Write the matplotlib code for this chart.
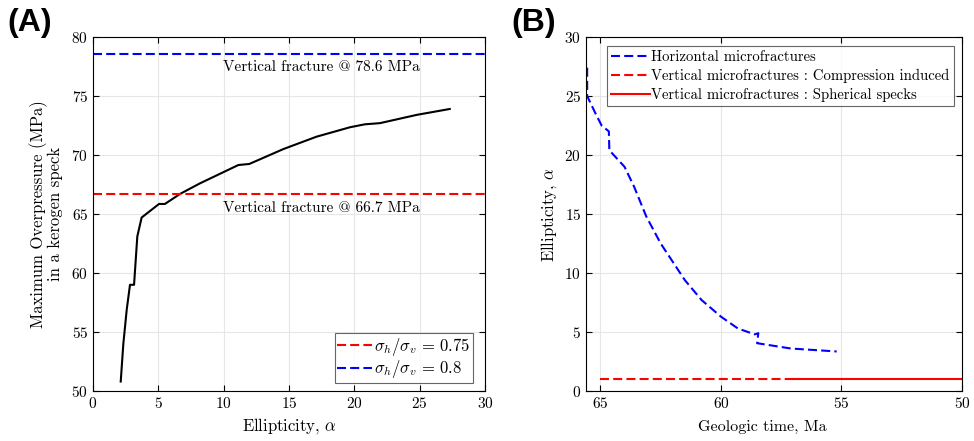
import matplotlib
matplotlib.use("Agg")
import matplotlib.pyplot as plt

plt.rcParams['font.family'] = ['cmr10', 'DejaVu Serif']
plt.rcParams['mathtext.fontset'] = 'cm'
plt.rcParams['axes.formatter.use_mathtext'] = True
plt.rcParams['axes.unicode_minus'] = False
plt.rcParams['lines.scale_dashes'] = False

# Panel A data
ellipticity = [2.12, 2.32, 2.58, 2.83, 3.14, 3.39, 3.72, 5.05, 5.5, 6.66, 8.19,
               11.12, 11.96, 14.56, 17.1, 19.66, 20.8, 21.96, 24.77, 27.3]
overpressure = [50.8, 54.0, 56.9, 59.0, 59.0, 63.1, 64.7, 65.85, 65.85, 66.7, 67.6,
                69.15, 69.24, 70.5, 71.55, 72.35, 72.6, 72.7, 73.4, 73.9]
frac_075 = 66.7
frac_08 = 78.6

# Panel B data
time_horiz = [65.55, 65.55, 65.2, 64.95, 64.65, 64.63, 64.0, 63.6, 63.1, 62.5, 61.5,
              60.8, 60.0, 59.3, 58.6, 58.45, 58.5, 57.1, 55.2]
ell_horiz = [27.4, 25.0, 23.5, 22.5, 22.0, 20.4, 19.0, 17.3, 14.8, 12.5, 9.4,
             7.7, 6.3, 5.3, 4.8, 4.9, 4.05, 3.6, 3.35]
time_comp = [65.0, 57.0]
ell_comp = [1.0, 1.0]
time_sph = [57.0, 50.0]
ell_sph = [1.0, 1.0]

DASH = (6.5, 3.0)
LW = 1.5

fig = plt.figure(figsize=(9.74, 4.41), dpi=100)
axA = fig.add_axes([0.0955, 0.1134, 0.4025, 0.8027])
axB = fig.add_axes([0.6016, 0.1134, 0.3861, 0.8027])

def style(ax):
    ax.grid(True, color='#e6e6e6', linewidth=0.8)
    ax.set_axisbelow(True)
    ax.tick_params(direction='in', top=True, right=True, labelsize=11, length=4)
    for s in ax.spines.values():
        s.set_linewidth(0.8)

# Panel A
axA.plot(ellipticity, overpressure, color='k', lw=LW)
l1, = axA.plot([0, 30], [frac_075, frac_075], color='r', ls='--', dashes=DASH, lw=LW,
               label=r'$\sigma_h/\sigma_v\,=\,0.75$')
l2, = axA.plot([0, 30], [frac_08, frac_08], color='b', ls='--', dashes=DASH, lw=LW,
               label=r'$\sigma_h/\sigma_v\,=\,0.8$')
axA.text(17.5, frac_08 - 0.6, 'Vertical fracture @ 78.6 MPa', ha='center', va='top', fontsize=11)
axA.text(17.5, frac_075 - 0.6, 'Vertical fracture @ 66.7 MPa', ha='center', va='top', fontsize=11)
axA.set_xlim(0, 30)
axA.set_ylim(50, 80)
axA.set_xticks([0, 5, 10, 15, 20, 25, 30])
axA.set_yticks([50, 55, 60, 65, 70, 75, 80])
axA.set_xlabel(r'Ellipticity, $\alpha$', fontsize=12)
axA.set_ylabel('Maximum Overpressure (MPa)\nin a kerogen speck', fontsize=12, linespacing=1.0,
               labelpad=6)
style(axA)
legA = axA.legend(handles=[l1, l2], loc='lower right', bbox_to_anchor=(0.969, 0.0226),
                  fontsize=12, fancybox=False,
                  edgecolor='#404040', handlelength=2.1, handletextpad=0.1,
                  borderpad=0.15, labelspacing=0.05, borderaxespad=0.0)
legA.get_frame().set_linewidth(0.8)

# Panel B
b1, = axB.plot(time_horiz, ell_horiz, color='b', ls='--', dashes=DASH, lw=LW,
               label='Horizontal microfractures')
b2, = axB.plot(time_comp, ell_comp, color='r', ls='--', dashes=DASH, lw=LW,
               label='Vertical microfractures : Compression induced')
b3, = axB.plot(time_sph, ell_sph, color='r', ls='-', lw=LW,
               label='Vertical microfractures : Spherical specks')
axB.set_xlim(65.6, 50)
axB.set_ylim(0, 30)
axB.set_xticks([65, 60, 55, 50])
axB.set_yticks([0, 5, 10, 15, 20, 25, 30])
axB.set_xlabel('Geologic time, Ma', fontsize=11.5)
axB.xaxis.set_label_coords(0.468, -0.083)
axB.set_ylabel(r'Ellipticity, $\alpha$', fontsize=12)
style(axB)
legB = axB.legend(handles=[b1, b2, b3], loc='upper left', bbox_to_anchor=(0.056, 0.9746),
                  fontsize=10.6, fancybox=False, edgecolor='#404040', handlelength=2.6,
                  handletextpad=0.1, borderpad=0.3, labelspacing=0.32, borderaxespad=0.0)
legB.get_frame().set_linewidth(0.8)

fig.text(0.008, 0.947, '(A)', fontsize=23, fontweight='bold', family='Liberation Sans', va='center')
fig.text(0.525, 0.947, '(B)', fontsize=23, fontweight='bold', family='Liberation Sans', va='center')

fig.savefig('out.png', dpi=100)
